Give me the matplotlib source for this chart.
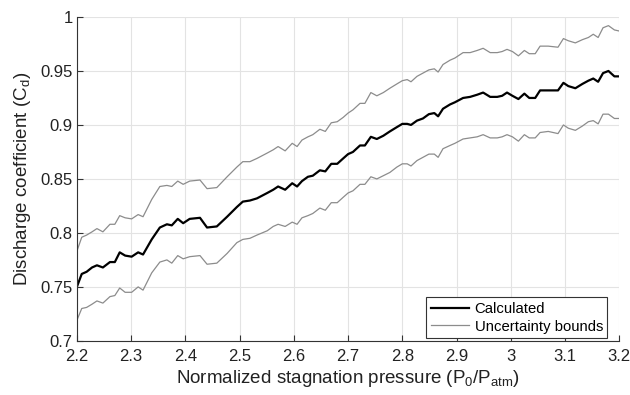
import numpy as np
import matplotlib
matplotlib.use("Agg")
import matplotlib.pyplot as plt

plt.rcParams['font.family'] = ['Liberation Sans', 'DejaVu Sans']
plt.rcParams['mathtext.fontset'] = 'custom'
plt.rcParams['mathtext.rm'] = 'Liberation Sans'

# normalized stagnation pressure (P0/Patm)
pressure = [2.200, 2.209, 2.218, 2.228, 2.237, 2.248, 2.261, 2.270, 2.279, 2.289,
            2.301, 2.313, 2.322, 2.338, 2.353, 2.366, 2.375, 2.386, 2.396, 2.408,
            2.427, 2.440, 2.458, 2.477, 2.495, 2.506, 2.519, 2.532, 2.551, 2.562,
            2.571, 2.584, 2.597, 2.606, 2.615, 2.626, 2.635, 2.648, 2.658, 2.669,
            2.680, 2.691, 2.700, 2.709, 2.722, 2.731, 2.742, 2.753, 2.765, 2.777,
            2.790, 2.800, 2.809, 2.816, 2.827, 2.838, 2.849, 2.859, 2.866, 2.875,
            2.888, 2.897, 2.912, 2.925, 2.938, 2.949, 2.962, 2.975, 2.984, 2.993,
            3.003, 3.014, 3.025, 3.034, 3.045, 3.054, 3.069, 3.087, 3.097, 3.106,
            3.119, 3.132, 3.143, 3.152, 3.161, 3.170, 3.180, 3.191, 3.200]

cd_calc = [0.750, 0.762, 0.764, 0.768, 0.770, 0.768, 0.773, 0.773, 0.782, 0.779,
           0.778, 0.782, 0.780, 0.794, 0.805, 0.808, 0.807, 0.813, 0.809, 0.813,
           0.814, 0.805, 0.806, 0.815, 0.824, 0.829, 0.830, 0.832, 0.837, 0.840,
           0.843, 0.840, 0.846, 0.843, 0.848, 0.852, 0.853, 0.858, 0.857, 0.864,
           0.864, 0.869, 0.873, 0.875, 0.881, 0.881, 0.889, 0.887, 0.890, 0.894,
           0.898, 0.901, 0.901, 0.900, 0.904, 0.906, 0.910, 0.911, 0.908, 0.915,
           0.919, 0.921, 0.925, 0.926, 0.928, 0.930, 0.926, 0.926, 0.927, 0.930,
           0.927, 0.924, 0.929, 0.925, 0.925, 0.932, 0.932, 0.932, 0.939, 0.936,
           0.934, 0.938, 0.941, 0.943, 0.940, 0.948, 0.950, 0.945, 0.945]

cd_upper = [0.783, 0.796, 0.798, 0.801, 0.804, 0.801, 0.808, 0.808, 0.816, 0.814,
            0.813, 0.817, 0.815, 0.831, 0.843, 0.844, 0.843, 0.848, 0.845, 0.848,
            0.849, 0.841, 0.842, 0.852, 0.861, 0.866, 0.866, 0.869, 0.874, 0.877,
            0.880, 0.876, 0.883, 0.880, 0.886, 0.889, 0.891, 0.896, 0.894, 0.902,
            0.903, 0.907, 0.911, 0.914, 0.920, 0.920, 0.930, 0.927, 0.930, 0.934,
            0.938, 0.941, 0.942, 0.940, 0.945, 0.948, 0.951, 0.952, 0.949, 0.956,
            0.960, 0.962, 0.967, 0.967, 0.969, 0.971, 0.967, 0.967, 0.968, 0.970,
            0.968, 0.964, 0.969, 0.966, 0.966, 0.973, 0.973, 0.972, 0.980, 0.978,
            0.976, 0.979, 0.981, 0.984, 0.981, 0.990, 0.992, 0.988, 0.987]

cd_lower = [0.719, 0.730, 0.731, 0.734, 0.737, 0.735, 0.741, 0.742, 0.749, 0.745,
            0.745, 0.750, 0.747, 0.763, 0.773, 0.775, 0.772, 0.779, 0.776, 0.778,
            0.779, 0.771, 0.772, 0.781, 0.791, 0.794, 0.795, 0.798, 0.802, 0.806,
            0.808, 0.806, 0.810, 0.808, 0.814, 0.816, 0.818, 0.823, 0.821, 0.828,
            0.828, 0.833, 0.837, 0.839, 0.845, 0.845, 0.852, 0.850, 0.853, 0.856,
            0.861, 0.864, 0.864, 0.862, 0.867, 0.870, 0.873, 0.873, 0.870, 0.878,
            0.881, 0.883, 0.887, 0.888, 0.889, 0.891, 0.888, 0.888, 0.889, 0.891,
            0.889, 0.885, 0.891, 0.888, 0.888, 0.893, 0.894, 0.892, 0.900, 0.897,
            0.895, 0.899, 0.903, 0.904, 0.901, 0.910, 0.910, 0.906, 0.906]

x_ticks = [2.2, 2.3, 2.4, 2.5, 2.6, 2.7, 2.8, 2.9, 3.0, 3.1, 3.2]
x_tick_labels = ['2.2', '2.3', '2.4', '2.5', '2.6', '2.7', '2.8', '2.9', '3', '3.1', '3.2']
y_ticks = [0.7, 0.75, 0.8, 0.85, 0.9, 0.95, 1.0]
y_tick_labels = ['0.7', '0.75', '0.8', '0.85', '0.9', '0.95', '1']

fig = plt.figure(figsize=(6.3, 3.95), dpi=100)
ax = fig.add_axes([0.122, 0.137, 0.861, 0.820])

ax.plot(pressure, cd_calc, color='black', lw=1.6, label='Calculated')
ax.plot(pressure, cd_upper, color='#8c8c8c', lw=0.9, label='Uncertainty bounds')
ax.plot(pressure, cd_lower, color='#8c8c8c', lw=0.9)

ax.set_xlim(2.2, 3.2)
ax.set_ylim(0.7, 1.0)
ax.set_xticks(x_ticks)
ax.set_xticklabels(x_tick_labels)
ax.set_yticks(y_ticks)
ax.set_yticklabels(y_tick_labels)
ax.grid(True, color='#e3e3e3', lw=0.8)
ax.set_axisbelow(True)

for side in ['top', 'right']:
    ax.spines[side].set_visible(False)
for side in ['left', 'bottom']:
    ax.spines[side].set_color('#333333')
    ax.spines[side].set_linewidth(0.8)
ax.tick_params(direction='in', length=4, width=0.8, color='#333333',
               labelsize=12, labelcolor='#222222')
ax.tick_params(axis='x', pad=5.5)
ax.tick_params(axis='y', pad=3)

ax.set_xlabel(r'Normalized stagnation pressure ($\mathregular{P_0/P_{atm}}$)',
              fontsize=13.5, color='#222222', labelpad=3)
ax.set_ylabel(r'Discharge coefficient ($\mathregular{C_d}$)',
              fontsize=13.5, color='#222222', labelpad=5)

leg = ax.legend(loc='lower right', fontsize=10.7, frameon=True, fancybox=False,
                edgecolor='#333333', framealpha=1, handlelength=2.6,
                borderpad=0.3, labelspacing=0.25, handletextpad=0.35,
                borderaxespad=0, bbox_to_anchor=(0.978, 0.009))
leg.get_frame().set_linewidth(0.8)

fig.savefig('out.png', dpi=100)
